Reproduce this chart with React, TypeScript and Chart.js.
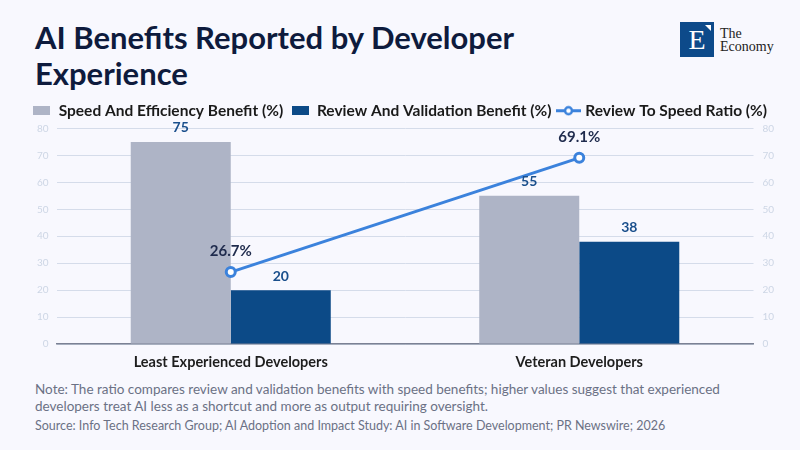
import React, { useEffect, useRef } from "react";
import { Chart, registerables } from "chart.js";

Chart.register(...registerables);

const categories = ["Least Experienced Developers", "Veteran Developers"];
const speedBenefit = [75, 55];
const reviewBenefit = [20, 38];
const reviewToSpeedRatio = [26.7, 69.1];
const yTicks = [0, 10, 20, 30, 40, 50, 60, 70, 80];

const seriesNames = [
  "Speed And Efficiency Benefit (%)",
  "Review And Validation Benefit (%)",
  "Review To Speed Ratio (%)",
];

const FONT = "Lato, 'Noto Sans', sans-serif";
const GRAY = "#aeb4c6";
const NAVY = "#0c4a87";
const LINE = "#3b82dc";
const BG = "#f8f8fe";

function makeBox(color: string) {
  const c = document.createElement("canvas");
  c.width = 17;
  c.height = 9;
  const ctx = c.getContext("2d")!;
  ctx.fillStyle = color;
  ctx.fillRect(0, 0, 17, 9);
  return c;
}

function makeLineIcon() {
  const c = document.createElement("canvas");
  c.width = 25;
  c.height = 11;
  const ctx = c.getContext("2d")!;
  ctx.strokeStyle = LINE;
  ctx.lineWidth = 3;
  ctx.beginPath();
  ctx.moveTo(0, 5.5);
  ctx.lineTo(25, 5.5);
  ctx.stroke();
  ctx.beginPath();
  ctx.arc(12.5, 5.5, 3.5, 0, Math.PI * 2);
  ctx.fillStyle = "#ffffff";
  ctx.fill();
  ctx.lineWidth = 2.5;
  ctx.stroke();
  return c;
}

const labelPlugin = {
  id: "valueLabels",
  afterDatasetsDraw(chart: any) {
    const ctx = chart.ctx;
    chart.data.datasets.forEach((ds: any, i: number) => {
      const meta = chart.getDatasetMeta(i);
      if (meta.hidden) return;
      meta.data.forEach((el: any, j: number) => {
        const v = ds.data[j];
        ctx.save();
        ctx.textAlign = "center";
        ctx.textBaseline = "bottom";
        if (ds.type === "line") {
          ctx.font = `bold 15px ${FONT}`;
          ctx.fillStyle = "#1f2b4d";
          ctx.fillText(`${v.toFixed(1)}%`, el.x, el.y - 13);
        } else {
          ctx.font = `bold 14px ${FONT}`;
          ctx.fillStyle = "#1a4f8c";
          ctx.fillText(String(v), el.x, el.y - 7);
        }
        ctx.restore();
      });
    });
  },
};

export default function App() {
  const ref = useRef<HTMLCanvasElement>(null);

  useEffect(() => {
    document.body.style.margin = "0";
    document.body.style.background = BG;
    const icons = [makeBox(GRAY), makeBox(NAVY), makeLineIcon()];
    const tickFont = { family: FONT, size: 10 };
    const chart = new Chart(ref.current!, {
      type: "bar",
      data: {
        labels: categories,
        datasets: [
          {
            type: "line",
            label: seriesNames[2],
            data: reviewToSpeedRatio,
            borderColor: LINE,
            borderWidth: 3,
            pointRadius: 4.5,
            pointBorderWidth: 3,
            pointBackgroundColor: "#ffffff",
            pointBorderColor: LINE,
            yAxisID: "y",
            order: 0,
          } as any,
          {
            type: "bar",
            label: seriesNames[0],
            data: speedBenefit,
            backgroundColor: GRAY,
            categoryPercentage: 0.574,
            barPercentage: 1.0,
            yAxisID: "y",
            order: 1,
          },
          {
            type: "bar",
            label: seriesNames[1],
            data: reviewBenefit,
            backgroundColor: NAVY,
            categoryPercentage: 0.574,
            barPercentage: 1.0,
            yAxisID: "y",
            order: 1,
          },
        ],
      },
      options: {
        animation: false,
        responsive: false,
        maintainAspectRatio: false,
        layout: { padding: 0 },
        plugins: {
          tooltip: { enabled: false },
          legend: {
            display: true,
            position: "top",
            labels: {
              usePointStyle: true,
              pointStyleWidth: 18,
              padding: 8,
              color: "#1a1a1a",
              font: { family: FONT, size: 15.5, weight: "bold" },
              generateLabels: (ch: any) => {
                const order = [1, 2, 0];
                return order.map((di, k) => ({
                  text: ch.data.datasets[di].label,
                  fillStyle: "transparent",
                  strokeStyle: "transparent",
                  lineWidth: 0,
                  pointStyle: icons[k],
                  hidden: false,
                  datasetIndex: di,
                  fontColor: "#1a1a1a",
                }));
              },
            },
          },
        },
        scales: {
          x: {
            grid: { display: false, drawTicks: false },
            border: { display: true, color: "#7b8194", width: 1.5 },
            ticks: {
              color: "#1e1e1e",
              padding: 10,
              font: { family: FONT, size: 14.5, weight: "bold" },
            },
            afterFit: (s: any) => {
              s.height = 36;
            },
          },
          y: {
            position: "left",
            min: 0,
            max: 80,
            afterBuildTicks: (s: any) => {
              s.ticks = yTicks.map((v) => ({ value: v }));
            },
            ticks: { color: "#cdd6e5", padding: 8, font: tickFont },
            grid: { color: "#d5dcea", drawTicks: false, lineWidth: 1 },
            border: { display: false },
            afterFit: (s: any) => {
              s.width = 56.5;
            },
          },
          y1: {
            position: "right",
            min: 0,
            max: 80,
            afterBuildTicks: (s: any) => {
              s.ticks = yTicks.map((v) => ({ value: v }));
            },
            ticks: { color: "#cdd6e5", padding: 9, font: tickFont },
            grid: { display: false, drawTicks: false },
            border: { display: false },
            afterFit: (s: any) => {
              s.width = 46.5;
            },
          },
        },
      } as any,
      plugins: [labelPlugin],
    });
    return () => chart.destroy();
  }, []);

  return (
    <div
      style={{
        position: "fixed",
        left: 0,
        top: 0,
        width: 800,
        height: 450,
        background: BG,
        overflow: "hidden",
        fontFamily: FONT,
      }}
    >
      <div
        style={{
          position: "absolute",
          left: 35,
          top: 19,
          fontSize: 31,
          lineHeight: "36px",
          fontWeight: 700,
          color: "#0e1b3d",
          whiteSpace: "nowrap",
        }}
      >
        AI Benefits Reported by Developer
        <br />
        Experience
      </div>
      <div
        style={{
          position: "absolute",
          left: 680,
          top: 22,
          width: 34,
          height: 35,
          background: "#0d4a8a",
        }}
      >
        <div
          style={{
            position: "absolute",
            left: 0,
            top: 3,
            width: 34,
            textAlign: "center",
            fontFamily: "'Liberation Serif', 'DejaVu Serif', serif",
            fontSize: 28,
            lineHeight: "30px",
            color: "#ffffff",
          }}
        >
          E
        </div>
        <div
          style={{
            position: "absolute",
            right: 3,
            top: 3,
            width: 0,
            height: 0,
            borderLeft: "6px solid transparent",
            borderTop: "6px solid #ffffff",
          }}
        />
      </div>
      <div
        style={{
          position: "absolute",
          left: 720,
          top: 28,
          fontFamily: "'Liberation Serif', 'DejaVu Serif', serif",
          fontSize: 14,
          lineHeight: "12.5px",
          color: "#222222",
        }}
      >
        The
        <br />
        Economy
      </div>
      <canvas
        ref={ref}
        width={800}
        height={285}
        style={{ position: "absolute", left: 0, top: 95, width: 800, height: 285 }}
      />
      <div
        style={{
          position: "absolute",
          left: 35,
          top: 381,
          fontSize: 13.5,
          lineHeight: "17px",
          color: "#6b7185",
          whiteSpace: "nowrap",
        }}
      >
        Note: The ratio compares review and validation benefits with speed benefits; higher values suggest that experienced
        <br />
        developers treat AI less as a shortcut and more as output requiring oversight.
      </div>
      <div
        style={{
          position: "absolute",
          left: 35,
          top: 418,
          fontSize: 12.5,
          lineHeight: "15px",
          color: "#6b7185",
          whiteSpace: "nowrap",
        }}
      >
        Source: Info Tech Research Group; AI Adoption and Impact Study: AI in Software Development; PR Newswire; 2026
      </div>
    </div>
  );
}
